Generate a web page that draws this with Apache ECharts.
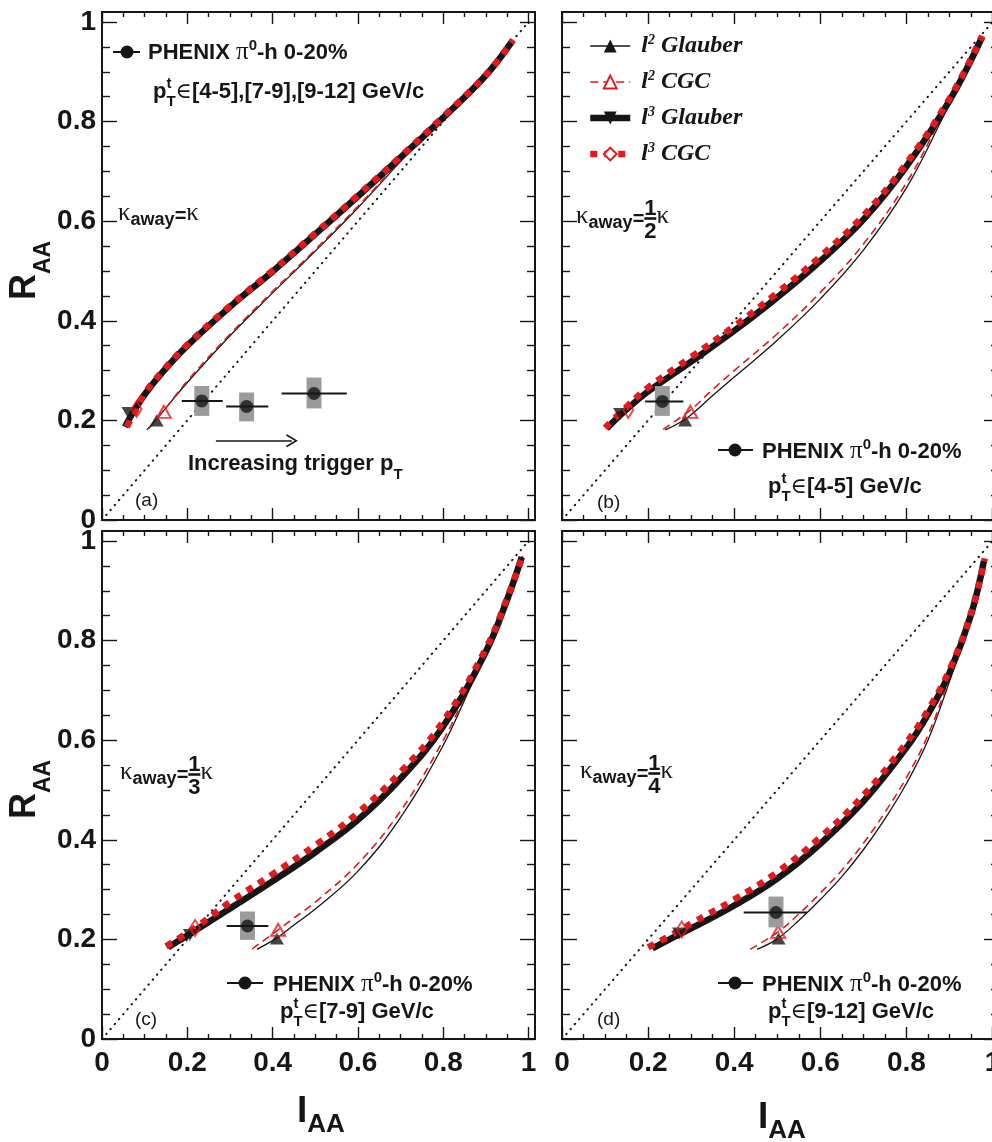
<!DOCTYPE html>
<html>
<head>
<meta charset="utf-8">
<title>R_AA vs I_AA</title>
<script src="https://cdn.jsdelivr.net/npm/echarts@6/dist/echarts.min.js"></script>
<style>
  html, body { margin: 0; padding: 0; background: #fff; }
  #chart { width: 992px; height: 1142px; }
</style>
</head>
<body>
<div id="chart"></div>
<script>
// ==================== Data ====================
const majorTicks = [0, 0.2, 0.4, 0.6, 0.8, 1];
const minorTicks = [0.05, 0.1, 0.15, 0.25, 0.3, 0.35, 0.45, 0.5, 0.55, 0.65, 0.7, 0.75, 0.85, 0.9, 0.95];
const diagonal = [[0, 0], [1, 1]];

// (a) kappa_away = kappa
const l2GlauberA = [[0.105,0.181],[0.13,0.205],[0.2,0.276],[0.3,0.37],[0.4,0.456],[0.5,0.54],[0.6,0.627],[0.7,0.72],[0.75,0.766],[0.8,0.808],[0.9,0.893],[0.962,0.962]];
const l2CgcA = [[0.11,0.184],[0.145,0.22],[0.2,0.279],[0.3,0.373],[0.4,0.459],[0.5,0.543],[0.6,0.63],[0.7,0.722],[0.75,0.767],[0.8,0.808],[0.9,0.893],[0.962,0.962]];
const l3GlauberA = [[0.054,0.187],[0.07,0.212],[0.1,0.252],[0.14,0.295],[0.2,0.35],[0.3,0.428],[0.4,0.499],[0.5,0.574],[0.6,0.65],[0.7,0.728],[0.8,0.808],[0.9,0.893],[0.962,0.962]];
const l3CgcA = [[0.058,0.187],[0.075,0.214],[0.1,0.254],[0.14,0.297],[0.2,0.352],[0.3,0.43],[0.4,0.501],[0.5,0.576],[0.6,0.652],[0.7,0.73],[0.8,0.81],[0.9,0.894],[0.964,0.964]];

// (b) kappa_away = kappa/2
const l2GlauberB = [[0.24,0.181],[0.29,0.205],[0.35,0.25],[0.4,0.287],[0.5,0.361],[0.6,0.444],[0.7,0.542],[0.8,0.667],[0.88,0.8],[0.914,0.862],[0.976,0.97]];
const l2CgcB = [[0.235,0.182],[0.3,0.222],[0.35,0.262],[0.4,0.3],[0.5,0.374],[0.6,0.457],[0.7,0.554],[0.8,0.677],[0.88,0.806],[0.914,0.863],[0.976,0.971]];
const l3GlauberB = [[0.104,0.184],[0.15,0.222],[0.2,0.258],[0.3,0.318],[0.4,0.38],[0.5,0.447],[0.6,0.52],[0.7,0.603],[0.8,0.71],[0.9,0.842],[0.976,0.97]];
const l3CgcB = [[0.1,0.185],[0.15,0.227],[0.2,0.266],[0.3,0.327],[0.4,0.389],[0.5,0.456],[0.6,0.529],[0.7,0.611],[0.8,0.716],[0.9,0.846],[0.976,0.972]];

// (c) kappa_away = kappa/3
const l2GlauberC = [[0.363,0.18],[0.41,0.203],[0.45,0.229],[0.5,0.261],[0.6,0.337],[0.7,0.445],[0.8,0.59],[0.86,0.7],[0.9,0.778],[0.95,0.883],[0.984,0.968]];
const l2CgcC = [[0.352,0.181],[0.413,0.219],[0.45,0.243],[0.5,0.275],[0.6,0.352],[0.7,0.458],[0.8,0.6],[0.86,0.706],[0.9,0.781],[0.95,0.884],[0.986,0.97]];
const l3GlauberC = [[0.155,0.184],[0.2,0.208],[0.3,0.262],[0.4,0.317],[0.5,0.375],[0.6,0.44],[0.7,0.523],[0.8,0.628],[0.9,0.778],[0.95,0.883],[0.984,0.968]];
const l3CgcC = [[0.15,0.186],[0.218,0.223],[0.3,0.275],[0.4,0.331],[0.5,0.389],[0.6,0.454],[0.7,0.536],[0.8,0.638],[0.9,0.784],[0.95,0.886],[0.986,0.97]];

// (d) kappa_away = kappa/4
const l2GlauberD = [[0.453,0.18],[0.5,0.201],[0.55,0.238],[0.6,0.28],[0.65,0.326],[0.7,0.38],[0.75,0.442],[0.8,0.513],[0.85,0.6],[0.9,0.718],[0.93,0.795],[0.95,0.852],[0.98,0.96]];
const l2CgcD = [[0.437,0.18],[0.502,0.215],[0.55,0.251],[0.6,0.293],[0.65,0.339],[0.7,0.393],[0.75,0.455],[0.8,0.525],[0.85,0.61],[0.9,0.725],[0.93,0.8],[0.95,0.853],[0.982,0.965]];
const l3GlauberD = [[0.21,0.182],[0.272,0.21],[0.3,0.222],[0.4,0.268],[0.5,0.322],[0.6,0.392],[0.7,0.477],[0.8,0.585],[0.85,0.652],[0.9,0.735],[0.95,0.852],[0.98,0.96]];
const l3CgcD = [[0.2,0.184],[0.278,0.22],[0.3,0.232],[0.4,0.28],[0.5,0.335],[0.6,0.405],[0.7,0.489],[0.8,0.595],[0.85,0.66],[0.9,0.741],[0.95,0.855],[0.982,0.965]];

// one marker per curve, panels a..d
const markL2Glauber = [[0.128,0.2],[0.286,0.2],[0.41,0.202],[0.503,0.202]];
const markL2Cgc     = [[0.145,0.217],[0.298,0.217],[0.413,0.219],[0.502,0.215]];
const markL3Glauber = [[0.062,0.215],[0.135,0.213],[0.206,0.209],[0.272,0.212]];
const markL3Cgc     = [[0.081,0.223],[0.154,0.221],[0.218,0.223],[0.278,0.22]];

// PHENIX pi0-h 0-20%: [I_AA, R_AA, I_AA low, I_AA high, R_AA sys low, R_AA sys high]
const phenixA = [[0.234,0.239,0.187,0.283,0.209,0.269],[0.339,0.228,0.291,0.39,0.198,0.256],[0.497,0.254,0.421,0.574,0.224,0.286]];
const phenixB = [[0.233,0.238,0.193,0.282,0.209,0.269]];
const phenixC = [[0.341,0.227,0.292,0.39,0.199,0.256]];
const phenixD = [[0.497,0.254,0.422,0.569,0.224,0.286]];

// "Increasing trigger pT" arrow in (a)
const arrowA = [[0.267,0.159],[0.445,0.159]];

// ==================== Styles ====================
const INK = '#161616';
const RED = '#e3191c';
const GREY = '#9b9b9b';
const SANS = '"Liberation Sans", "DejaVu Sans", sans-serif';
const SERIF = '"Liberation Serif", "DejaVu Serif", serif';
const X_MAX = 1.015, Y_MAX = 1.02;

const panels = [
    { l2g: l2GlauberA, l2c: l2CgcA, l3g: l3GlauberA, l3c: l3CgcA, data: phenixA },
    { l2g: l2GlauberB, l2c: l2CgcB, l3g: l3GlauberB, l3c: l3CgcB, data: phenixB },
    { l2g: l2GlauberC, l2c: l2CgcC, l3g: l3GlauberC, l3c: l3CgcC, data: phenixC },
    { l2g: l2GlauberD, l2c: l2CgcD, l3g: l3GlauberD, l3c: l3CgcD, data: phenixD }
];
const gridBoxes = [
    { left: 102, top: 12, width: 433, height: 508 },
    { left: 562, top: 12, width: 437, height: 508 },
    { left: 102, top: 531, width: 433, height: 508 },
    { left: 562, top: 531, width: 437, height: 508 }
];

// ==================== Text helpers ====================
const mctx = document.createElement('canvas').getContext('2d');
const B = s => ({ family: SANS, weight: 'bold', size: s });
const N = s => ({ family: SANS, weight: 'normal', size: s });
const SY = s => ({ family: SERIF, weight: 'normal', size: s });
const fontStr = f => `${f.style || 'normal'} ${f.weight} ${f.size}px ${f.family}`;

// lays out a run of text pieces on a common baseline y
function run(x, y, segs) {
    const out = [];
    let cx = x;
    segs.forEach(s => {
        if (s.rule) {
            out.push({ type: 'rect', silent: true, shape: { x: cx, y: y + s.dy - 1.3, width: s.rule, height: 2.6 }, style: { fill: INK } });
            return;
        }
        const font = fontStr(s.f);
        mctx.font = font;
        mctx.textBaseline = 'middle';
        const off = mctx.measureText('H').actualBoundingBoxDescent;
        const w = mctx.measureText(s.t).width;
        out.push({
            type: 'text', silent: true, x: cx + (s.dx || 0), y: y + (s.dy || 0) - off,
            style: { text: s.t, font: font, fill: INK, align: 'left', verticalAlign: 'middle' }
        });
        if (!s.hold) cx += w + (s.dx || 0);
    });
    return out;
}

function phenixKey(x0, x1, xc, y) {
    return [
        { type: 'line', silent: true, shape: { x1: x0, y1: y, x2: x1, y2: y }, style: { stroke: INK, lineWidth: 2 } },
        { type: 'circle', silent: true, shape: { cx: xc, cy: y, r: 6.5 }, style: { fill: INK } }
    ];
}

const phenixSegs = [{ t: 'PHENIX ', f: B(22) }, { t: 'π', f: SY(25) }, { t: '0', f: B(15), dy: -9 }, { t: '-h 0-20%', f: B(22) }];
const ptSegs = rest => [{ t: 'p', f: B(22) }, { t: 't', f: B(15), dy: -10, hold: true }, { t: 'T', f: B(15), dy: 8 }, { t: '∈', f: SY(22) }, { t: rest, f: B(22) }];
const kappaSegs = den => {
    const s = [{ t: 'κ', f: SY(25) }, { t: 'away', f: B(18), dy: 5 }, { t: '=', f: B(20), dy: 2 }];
    if (den) {
        s.push({ t: '1', f: B(22), dy: -8, hold: true }, { rule: 12, dy: -4.5 }, { t: den, f: B(22), dy: 15 });
    }
    s.push({ t: 'κ', f: SY(25) });
    return s;
};

const texts = [
    // (a)
    ...phenixKey(113, 140, 127, 52),
    ...run(148, 59, phenixSegs),
    ...run(153, 98, ptSegs('[4-5],[7-9],[9-12] GeV/c')),
    ...run(118, 220, kappaSegs(null)),
    ...run(188, 470, [{ t: 'Increasing trigger p', f: B(22) }, { t: 'T', f: B(15), dy: 9 }]),
    ...run(135, 506, [{ t: '(a)', f: N(19) }]),
    // (b)
    ...run(576, 223, kappaSegs('2')),
    ...phenixKey(718, 753, 735, 450),
    ...run(762, 458, phenixSegs),
    ...run(768, 493, ptSegs('[4-5] GeV/c')),
    ...run(597, 508, [{ t: '(b)', f: N(19) }]),
    // (c)
    ...run(120, 779, kappaSegs('3')),
    ...phenixKey(227, 263, 245, 983),
    ...run(273, 991, phenixSegs),
    ...run(280, 1018, ptSegs('[7-9] GeV/c')),
    ...run(135, 1025, [{ t: '(c)', f: N(19) }]),
    // (d)
    ...run(580, 778, kappaSegs('4')),
    ...phenixKey(718, 753, 735, 983),
    ...run(762, 991, phenixSegs),
    ...run(768, 1018, ptSegs('[9-12] GeV/c')),
    ...run(597, 1025, [{ t: '(d)', f: N(19) }]),
    // axis titles
    ...run(297, 1122, [{ t: 'I', f: B(37) }, { t: 'AA', f: B(26), dy: 10 }]),
    ...run(758, 1128, [{ t: 'I', f: B(37) }, { t: 'AA', f: B(26), dy: 10 }]),
    { type: 'group', x: 35, y: 300, rotation: Math.PI / 2, children: run(0, 0, [{ t: 'R', f: B(36) }, { t: 'AA', f: B(23), dy: 15 }]) },
    { type: 'group', x: 35, y: 819, rotation: Math.PI / 2, children: run(0, 0, [{ t: 'R', f: B(36) }, { t: 'AA', f: B(23), dy: 15 }]) }
];

// ==================== Axes ====================
const tickLine = { color: INK, width: 1.4 };
const labelStyle = { fontFamily: SANS, fontWeight: 'bold', fontSize: 28, color: INK, customValues: majorTicks };

function axisPair(gi, dim, pos, labels) {
    const isX = dim === 'x';
    const base = {
        gridIndex: gi, type: 'value', min: 0, max: isX ? X_MAX : Y_MAX, position: pos,
        axisLine: { show: false, onZero: false }, splitLine: { show: false }
    };
    const major = Object.assign({}, base, {
        interval: 0.2,
        axisTick: { show: true, inside: true, length: isX ? 12 : 15, customValues: majorTicks, lineStyle: tickLine },
        axisLabel: labels ? Object.assign({}, labelStyle, { margin: isX ? 10 : 6 }) : { show: false }
    });
    const minor = Object.assign({}, base, {
        interval: 0.05,
        axisTick: { show: true, inside: true, length: isX ? 5 : 8, customValues: minorTicks, lineStyle: tickLine },
        axisLabel: { show: false }
    });
    return [major, minor];
}

const xAxis = [], yAxis = [];
gridBoxes.forEach((g, gi) => {
    const bottomRow = gi >= 2, leftCol = gi % 2 === 0;
    xAxis.push(...axisPair(gi, 'x', 'bottom', bottomRow), ...axisPair(gi, 'x', 'top', false));
    yAxis.push(...axisPair(gi, 'y', 'left', leftCol), ...axisPair(gi, 'y', 'right', false));
});

// ==================== Series ====================
const curveStyles = {
    'l2 Glauber': { lineStyle: { color: INK, width: 1.3 }, symbol: 'triangle', itemStyle: { color: INK } },
    'l2 CGC': { lineStyle: { color: RED, width: 1.6, type: [8, 5] }, symbol: 'triangle', itemStyle: { color: '#fff', borderColor: RED, borderWidth: 2 } },
    'l3 Glauber': { lineStyle: { color: INK, width: 6.5 }, symbol: 'triangle', symbolRotate: 180, itemStyle: { color: INK } },
    'l3 CGC': { lineStyle: { color: RED, width: 6.5, type: [7, 7] }, symbol: 'diamond', itemStyle: { color: '#fff', borderColor: RED, borderWidth: 2 } }
};

function renderPhenixSys(params, api) {
    const c = api.coord([api.value(0), api.value(1)]);
    const lo = api.coord([api.value(2), api.value(1)]);
    const hi = api.coord([api.value(3), api.value(1)]);
    const sLo = api.coord([api.value(0), api.value(4)]);
    const sHi = api.coord([api.value(0), api.value(5)]);
    return {
        type: 'group',
        children: [
            { type: 'rect', shape: { x: c[0] - 7.5, y: sHi[1], width: 15, height: sLo[1] - sHi[1] }, style: { fill: GREY } },
            { type: 'line', shape: { x1: lo[0], y1: c[1], x2: hi[0], y2: c[1] }, style: { stroke: INK, lineWidth: 2 } }
        ]
    };
}

const series = [];
panels.forEach((p, gi) => {
    const ax = { xAxisIndex: gi * 4, yAxisIndex: gi * 4 };
    const diag = {
        type: 'line', name: 'diag', ...ax, data: diagonal, symbol: 'none', silent: true, z: 1,
        lineStyle: { color: INK, width: 2, type: [0.5, 6], cap: 'round' }
    };
    if (gi === 0) {
        diag.markLine = {
            silent: true, symbol: ['none', 'path://M5,0 L10,9 L9,10 L5,2.6 L1,10 L0,9 Z'], symbolSize: [13, 12],
            lineStyle: { color: INK, width: 1.6, type: 'solid' }, label: { show: false },
            data: [[{ coord: arrowA[0] }, { coord: arrowA[1] }]]
        };
    }
    series.push(diag);
    [['l2 Glauber', p.l2g], ['l2 CGC', p.l2c], ['l3 Glauber', p.l3g], ['l3 CGC', p.l3c]].forEach(([name, pts]) => {
        series.push(Object.assign({
            type: 'line', name, ...ax, data: pts, showSymbol: false, smooth: 0.4, silent: true, z: 2
        }, curveStyles[name]));
    });
    series.push({
        type: 'scatter', name: 'markers', ...ax, silent: true, z: 4,
        data: [
            { value: markL2Glauber[gi], symbol: 'triangle', symbolSize: [14, 12], itemStyle: { color: INK } },
            { value: markL2Cgc[gi], symbol: 'triangle', symbolSize: [14, 12], itemStyle: { color: 'rgba(0,0,0,0)', borderColor: RED, borderWidth: 2 } },
            { value: markL3Glauber[gi], symbol: 'triangle', symbolRotate: 180, symbolSize: [14, 12], itemStyle: { color: INK } },
            { value: markL3Cgc[gi], symbol: 'diamond', symbolSize: [10, 16], itemStyle: { color: 'rgba(0,0,0,0)', borderColor: RED, borderWidth: 2 } }
        ]
    });
    series.push({
        type: 'custom', name: 'PHENIX sys', ...ax, silent: true, z: 5,
        data: p.data, encode: { x: [0, 2, 3], y: [1, 4, 5] }, renderItem: renderPhenixSys
    });
    series.push({
        type: 'scatter', name: 'PHENIX', ...ax, silent: true, z: 6,
        data: p.data.map(r => [r[0], r[1]]), symbol: 'circle', symbolSize: 13, itemStyle: { color: INK }
    });
});

// ==================== Chart ====================
const legendRich = {
    l: { fontFamily: SERIF, fontStyle: 'italic', fontWeight: 'bold', fontSize: 24, color: INK, padding: [0, 0, 0, 6], lineHeight: 26 },
    s: { fontFamily: SERIF, fontStyle: 'italic', fontWeight: 'bold', fontSize: 14, color: INK, verticalAlign: 'top', lineHeight: 16 },
    t: { fontFamily: SERIF, fontStyle: 'italic', fontWeight: 'bold', fontSize: 24, color: INK, lineHeight: 26 }
};
const legendItems = ['l2 Glauber', 'l2 CGC', 'l3 Glauber', 'l3 CGC'].map(name => ({
    name, lineStyle: Object.assign({}, curveStyles[name].lineStyle), itemStyle: Object.assign({}, curveStyles[name].itemStyle)
}));

const chart = echarts.init(document.getElementById('chart'), null, { renderer: 'canvas' });
chart.setOption({
    animation: false,
    backgroundColor: '#fff',
    textStyle: { fontFamily: SANS },
    grid: gridBoxes.map(g => Object.assign({
        show: true, borderColor: INK, borderWidth: 2, backgroundColor: 'rgba(0,0,0,0)',
        containLabel: false, outerBoundsMode: 'none'
    }, g)),
    xAxis: xAxis,
    yAxis: yAxis,
    legend: [{
        orient: 'vertical', left: 587, top: 33, padding: 0, itemWidth: 40, itemHeight: 16, itemGap: 11,
        selectedMode: false, data: legendItems,
        formatter: name => {
            const [head, tail] = name.split(' ');
            return `{l|l}{s|${head[1]}}{t| ${tail}}`;
        },
        textStyle: { rich: legendRich }
    }],
    graphic: { elements: texts },
    series: series
});
window.addEventListener('resize', () => chart.resize());
</script>
</body>
</html>
